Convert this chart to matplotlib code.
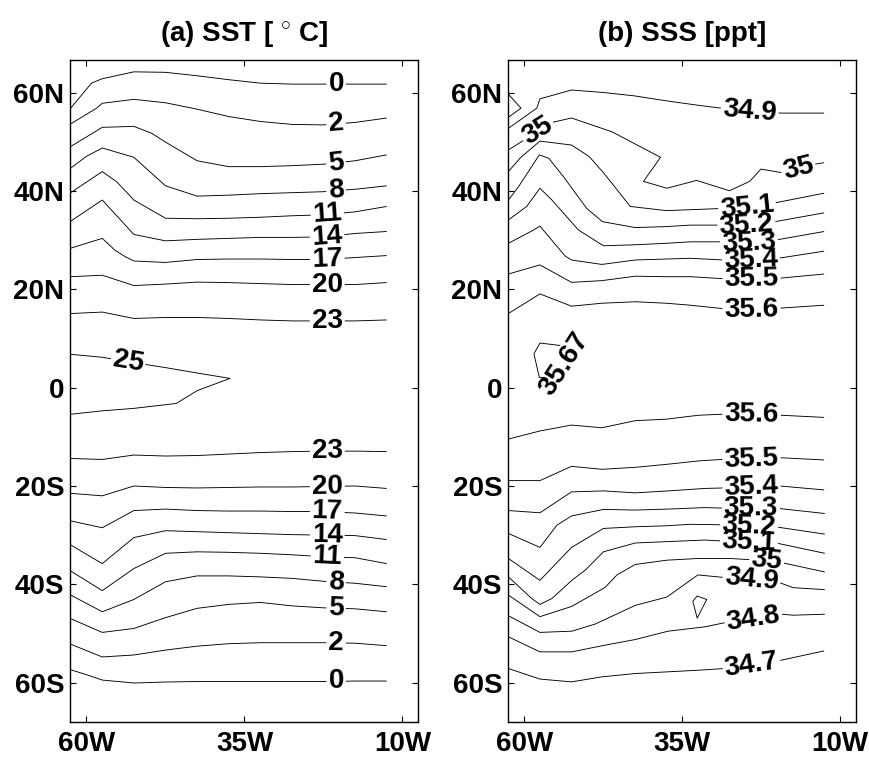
import numpy as np
import matplotlib
matplotlib.use("Agg")
import matplotlib.pyplot as plt
from matplotlib.contour import ContourSet

plt.rcParams['font.family'] = ['Liberation Sans', 'DejaVu Sans']
plt.rcParams['font.weight'] = 'bold'
plt.rcParams['mathtext.fontset'] = 'custom'
plt.rcParams['mathtext.rm'] = 'Liberation Sans:bold'
plt.rcParams['mathtext.it'] = 'Liberation Sans:bold'
plt.rcParams['mathtext.bf'] = 'Liberation Sans:bold'

# ---------------- data (lon in deg E, negative = W; lat in deg N) ----------------
X_TICKS = [-60, -35, -10]
X_TICKLABELS = ['60W', '35W', '10W']
Y_TICKS = [-60, -40, -20, 0, 20, 40, 60]
Y_TICKLABELS = ['60S', '40S', '20S', '0', '20N', '40N', '60N']

G = [-62.5, -57.5, -52.5, -47.5, -42.5, -37.5, -32.5, -27.5, -22.5, -17.5, -12.5]

# SST contours: (level, lons, lats)
sst_north = [
    (0, [-62.5, -59.2, -57.5, -52.5, -47.5, -42.5, -37.5, -32.5, -27.5, -22.5, -17.5, -12.5],
        [56.9, 62.0, 62.9, 64.3, 64.2, 63.5, 62.7, 62.0, 61.8, 61.8, 61.8, 61.8]),
    (2, [-62.5, -58.4, -57.5, -52.5, -47.5, -42.5, -37.5, -32.5, -27.5, -22.5, -17.5, -12.5],
        [53.7, 56.9, 57.9, 58.7, 58.0, 56.7, 55.2, 54.2, 53.6, 53.5, 54.0, 54.9]),
    (5, [-62.5, -57.5, -52.5, -49.7, -47.5, -42.5, -37.5, -32.5, -27.5, -22.5, -17.5, -12.5],
        [49.1, 53.0, 53.2, 51.8, 50.0, 46.2, 45.0, 45.0, 45.2, 45.5, 46.2, 47.4]),
    (8, [-62.5, -60.0, -57.5, -52.5, -47.5, -42.5, -37.5, -32.5, -27.5, -22.5, -17.5, -12.5],
        [44.7, 47.1, 48.8, 46.9, 41.1, 39.0, 39.2, 39.5, 39.7, 39.9, 40.4, 41.1]),
    (11, [-62.5, -57.5, -55.2, -52.5, -47.5, -42.5, -37.5, -32.5, -27.5, -22.5, -17.5, -12.5],
         [39.7, 44.0, 41.9, 38.2, 34.5, 34.4, 34.5, 34.7, 35.0, 35.2, 35.8, 36.9]),
    (14, G, [33.9, 38.2, 31.2, 29.9, 30.2, 30.4, 30.6, 30.6, 30.7, 31.4, 31.8]),
    (17, [-62.5, -57.5, -55.5, -53.9, -52.5, -47.5, -42.5, -37.5, -32.5, -27.5, -22.5, -17.5, -12.5],
         [28.4, 30.4, 28.0, 26.7, 25.8, 25.5, 26.1, 26.2, 26.2, 26.1, 26.1, 26.5, 26.9]),
    (20, G, [22.6, 22.9, 20.8, 21.1, 21.5, 21.4, 21.2, 21.0, 21.0, 21.0, 21.4]),
    (23, G, [15.1, 15.4, 14.1, 14.3, 14.3, 14.1, 13.8, 13.6, 13.6, 13.6, 13.8]),
    (25, [-62.5, -57.5, -52.5, -47.5, -42.5, -37.3, -42.5, -45.8, -52.5, -57.5, -62.5],
         [6.8, 6.2, 5.1, 4.1, 3.0, 1.9, -0.6, -3.2, -4.2, -4.7, -5.4]),
]
sst_south = [
    (23, G, [-14.4, -14.6, -13.7, -13.9, -13.8, -13.5, -13.2, -13.0, -12.9, -12.9, -13.0]),
    (20, G, [-21.5, -22.0, -20.0, -20.3, -20.4, -20.3, -20.2, -20.2, -20.1, -20.0, -20.5]),
    (17, G, [-27.1, -28.5, -25.0, -24.7, -25.0, -25.1, -25.1, -25.2, -25.2, -25.5, -26.1]),
    (14, G, [-32.0, -35.8, -30.5, -29.1, -29.3, -29.5, -29.7, -29.9, -30.0, -30.1, -30.9]),
    (11, G, [-37.3, -41.3, -36.8, -33.7, -33.4, -33.5, -33.7, -34.0, -34.4, -34.6, -35.8]),
    (8, G, [-42.2, -45.6, -43.1, -39.5, -38.3, -38.3, -38.5, -38.8, -39.4, -39.8, -40.5]),
    (5, G, [-47.0, -49.8, -49.0, -46.8, -44.9, -44.1, -43.7, -44.4, -44.8, -45.0, -45.6]),
    (2, G, [-52.2, -54.8, -54.4, -53.4, -52.6, -52.1, -51.9, -51.9, -51.9, -52.0, -52.5]),
    (0, [-62.5, -60.5, -57.5, -52.5, -47.5, -42.5, -37.5, -32.5, -27.5, -22.5, -17.5, -12.5],
        [-57.4, -58.2, -59.5, -60.1, -59.9, -59.8, -59.8, -59.8, -59.8, -59.8, -59.7, -59.7]),
]
sst_labels = [
    (0, -20.5, 61.8), (2, -20.5, 53.5), (5, -20.5, 45.4), (8, -20.5, 39.8),
    (11, -21.9, 35.2), (14, -21.9, 30.7), (17, -21.9, 26.1), (20, -21.9, 21.0),
    (23, -21.9, 13.6), (25, -53.4, 5.2),
    (23, -21.9, -12.9), (20, -21.9, -20.1), (17, -21.9, -25.2), (14, -21.9, -30.0),
    (11, -21.9, -34.4), (8, -20.5, -39.4), (5, -20.5, -44.8), (2, -20.5, -51.9),
    (0, -20.5, -59.8),
]

# SSS contours: (level, lons, lats)
sss_north = [
    (34.9, [-62.5, -60.5, -62.5], [59.75, 56.9, 55.06]),
    (34.9, [-62.5, -58.0, -57.5, -52.5, -47.5, -42.5, -37.5, -32.5, -28.8, -24.3, -19.3, -12.5],
           [52.8, 56.9, 58.8, 60.6, 60.1, 59.4, 58.4, 57.5, 56.9, 56.2, 55.9, 55.9]),
    (35.0, [-62.5, -55.6, -52.5, -46.1, -38.4, -41.1, -37.4, -32.7, -27.5, -24.3, -22.5, -19.3, -14.0, -12.5],
           [48.4, 54.0, 54.9, 52.1, 46.9, 42.0, 40.6, 42.2, 40.1, 42.0, 44.5, 43.8, 45.5, 45.8]),
    (35.1, [-62.5, -60.6, -57.5, -52.5, -49.7, -47.4, -46.1, -43.2, -37.5, -32.4, -28.5, -24.7, -20.0, -12.5],
           [44.0, 46.8, 50.2, 49.4, 47.05, 43.7, 41.6, 36.9, 36.05, 36.3, 36.5, 36.7, 37.7, 39.6]),
    (35.2, [-62.5, -60.9, -57.6, -56.1, -53.8, -50.1, -47.6, -42.4, -37.5, -33.7, -28.5, -24.8, -20.3, -12.5],
           [38.2, 40.9, 47.4, 46.7, 43.0, 36.5, 33.8, 32.6, 32.8, 33.1, 33.1, 33.1, 33.8, 35.6]),
    (35.3, [-62.5, -59.6, -57.5, -55.6, -51.4, -47.45, -42.4, -37.5, -33.7, -28.2, -24.4, -20.0, -12.5],
           [34.15, 36.9, 40.6, 38.2, 32.1, 28.9, 29.1, 29.4, 29.7, 29.7, 29.5, 30.1, 31.8]),
    (35.4, [-62.5, -58.5, -57.5, -54.3, -53.5, -52.5, -47.7, -42.4, -37.5, -33.7, -28.4, -24.1, -19.8, -12.5],
           [29.4, 32.1, 32.9, 28.0, 26.8, 26.0, 25.1, 26.0, 26.2, 26.35, 26.0, 25.9, 26.35, 27.8]),
    (35.5, [-62.5, -57.5, -52.5, -47.7, -42.4, -37.5, -33.7, -28.5, -24.0, -19.5, -12.5],
           [23.15, 25.0, 21.45, 21.8, 22.7, 22.6, 22.6, 22.2, 22.1, 22.3, 23.15]),
    (35.6, [-62.5, -57.5, -52.5, -47.7, -42.4, -37.5, -33.7, -28.5, -24.0, -19.5, -12.5],
           [15.1, 19.1, 16.6, 17.2, 17.5, 17.2, 16.8, 16.1, 15.9, 16.2, 16.8]),
    (35.67, [-54.3, -57.5, -58.45, -57.6, -56.8], [8.6, 9.1, 6.9, 2.1, 2.1]),
]
sss_south = [
    (35.6, [-62.5, -57.5, -52.5, -47.7, -42.4, -37.5, -32.4, -28.8, -24.0, -19.3, -12.5],
           [-10.45, -8.8, -7.6, -8.15, -6.7, -6.4, -5.6, -5.4, -5.5, -5.6, -6.04]),
    (35.5, [-62.5, -57.5, -52.5, -47.7, -42.4, -37.5, -32.4, -28.8, -24.0, -19.3, -12.5],
           [-18.9, -18.9, -16.0, -16.6, -16.2, -15.6, -14.9, -14.6, -14.5, -14.25, -14.7]),
    (35.4, [-62.5, -57.5, -52.5, -47.45, -42.4, -37.2, -31.4, -28.5, -24.0, -19.5, -12.5],
           [-25.0, -25.45, -21.2, -21.0, -21.4, -21.0, -20.5, -20.4, -20.3, -20.0, -20.8]),
    (35.3, [-62.5, -57.5, -54.8, -52.5, -47.45, -42.4, -37.2, -31.4, -28.5, -24.1, -19.5, -12.4],
           [-29.66, -32.5, -27.96, -26.1, -24.77, -24.9, -24.7, -24.4, -24.5, -24.6, -24.6, -25.6]),
    (35.2, [-62.5, -57.5, -52.5, -47.45, -42.4, -37.5, -33.7, -28.5, -24.4, -19.75, -12.4],
           [-34.75, -39.2, -32.5, -28.64, -28.3, -28.1, -27.8, -27.9, -28.1, -28.4, -29.8]),
    (35.1, [-62.5, -58.8, -57.5, -55.6, -52.45, -50.3, -47.45, -42.4, -31.4, -28.5, -24.4, -19.75, -12.4],
           [-38.5, -42.9, -44.1, -42.9, -39.2, -37.1, -33.4, -31.6, -31.0, -31.2, -31.4, -31.7, -33.7]),
    (35.0, [-62.5, -57.5, -52.45, -47.2, -45.3, -42.4, -37.4, -32.4, -27.5, -21.6, -19.2, -12.4],
           [-42.2, -46.6, -44.5, -40.66, -38.1, -35.97, -35.1, -34.75, -34.75, -35.2, -35.6, -37.5]),
    (34.9, [-62.5, -57.5, -52.45, -48.75, -42.4, -37.4, -32.5, -28.5, -24.0, -19.5, -17.4, -12.4],
           [-46.4, -49.8, -49.55, -48.1, -44.3, -42.6, -38.1, -38.6, -39.0, -39.7, -40.7, -41.1]),
    (34.9, [-33.3, -32.6, -31.1, -32.6, -33.3], [-43.45, -42.4, -43.1, -46.9, -43.45]),
    (34.8, [-62.5, -57.5, -52.45, -47.2, -42.4, -37.2, -31.4, -28.5, -23.7, -19.2, -17.4, -12.4],
           [-50.7, -53.76, -53.76, -52.4, -51.25, -49.55, -48.67, -47.9, -47.0, -46.1, -46.3, -46.1]),
    (34.7, [-62.5, -57.5, -52.5, -47.7, -42.4, -32.4, -28.2, -24.0, -19.3, -12.5],
           [-57.15, -59.3, -59.87, -58.85, -58.17, -57.5, -57.15, -56.4, -55.46, -53.56]),
]
sss_labels = [
    (34.9, -24.3, 56.2), (35.0, -57.9, 52.4), (35.0, -16.6, 44.7),
    (35.1, -24.7, 36.7), (35.2, -24.8, 33.1), (35.3, -24.4, 29.5),
    (35.4, -24.1, 25.9), (35.5, -24.0, 22.1), (35.6, -24.0, 15.9),
    (35.6, -24.0, -5.5), (35.5, -24.0, -14.5), (35.4, -24.0, -20.3),
    (35.3, -24.1, -24.6), (35.2, -24.4, -28.1), (35.1, -24.4, -31.4),
    (35.0, -21.6, -35.2), (34.9, -24.0, -39.0), (34.8, -23.7, -47.0),
    (34.7, -24.0, -56.4),
]
# free-standing label of the small 35.67 contour
sss_free_label = ('35.67', -53.6, 4.8, 57)

XLIM = (-62.6, -7.5)
YLIM = (-68.1, 66.7)
FS = 20


def draw_panel(ax, contours, labels, title):
    levels = sorted(set(c[0] for c in contours))
    allsegs = [[np.column_stack([lon, lat]) for lev, lon, lat in contours if lev == L]
               for L in levels]
    cs = ContourSet(ax, levels, allsegs, colors='k', linewidths=0.65)
    ax.set_xlim(*XLIM)
    ax.set_ylim(*YLIM)
    cs.clabel(manual=[(x, y) for lev, x, y in labels], inline=True, inline_spacing=2,
              fmt='%g', fontsize=FS)
    ax.set_xticks(X_TICKS)
    ax.set_xticklabels(X_TICKLABELS)
    ax.set_yticks(Y_TICKS)
    ax.set_yticklabels(Y_TICKLABELS)
    ax.tick_params(axis='both', direction='in', top=True, right=True,
                   length=4.5, width=0.8, labelsize=FS)
    ax.tick_params(axis='x', pad=6)
    ax.tick_params(axis='y', pad=4)
    for s in ax.spines.values():
        s.set_linewidth(1.0)
    ax.set_title(title, fontsize=FS, fontweight='bold', pad=14)
    return cs


fig = plt.figure(figsize=(8.7, 7.6), dpi=100)
ax1 = fig.add_axes([0.0805, 0.0496, 0.4003, 0.8714])
ax2 = fig.add_axes([0.5836, 0.0496, 0.4000, 0.8714])

draw_panel(ax1, sst_north + sst_south, sst_labels, r'(a) SST [ $^{\circ}$ C]')
draw_panel(ax2, sss_north + sss_south, sss_labels, '(b) SSS [ppt]')
txt, tx, ty, rot = sss_free_label
ax2.text(tx, ty, txt, rotation=rot, rotation_mode='anchor', ha='center', va='center',
         fontsize=FS, fontweight='bold')

fig.savefig('out.png', dpi=100)
